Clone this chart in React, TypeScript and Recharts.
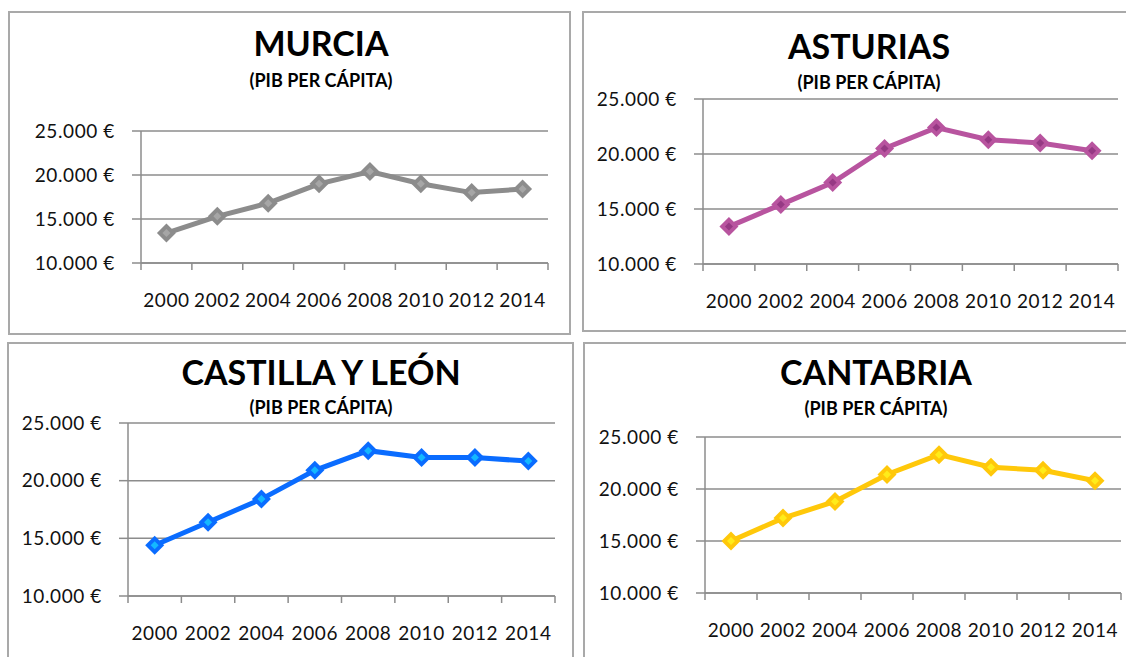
import React from 'react';
import { LineChart, Line, XAxis, YAxis, CartesianGrid } from 'recharts';

// PIB per cápita por comunidad (euros)
const years = ['2000', '2002', '2004', '2006', '2008', '2010', '2012', '2014'];
const murcia = [13400, 15300, 16800, 19000, 20400, 19000, 18000, 18400];
const asturias = [13400, 15400, 17400, 20500, 22400, 21300, 21000, 20300];
const castillaLeon = [14400, 16400, 18400, 20900, 22600, 22000, 22000, 21700];
const cantabria = [15000, 17200, 18800, 21400, 23300, 22100, 21800, 20800];
const yTicks = [10000, 15000, 20000, 25000];

const SUBTITLE = '(PIB PER CÁPITA)';
const AXIS = '#8c8c8c';
const TEXT = '#111';
const FONT = 'Lato, "Open Sans", sans-serif';
const TICK_FS = 19;

const fmtEuro = (v: number) => `${Math.floor(v / 1000)}.${String(v % 1000).padStart(3, '0')} €`;

const panels = [
  {
    title: 'MURCIA', values: murcia, line: '#8c8c8c', inner: '#a6a6a6',
    box: { x: 8, y: 11, w: 563, h: 324 }, plot: { x: 141, y: 131, w: 407, h: 132 },
    titleX: 321, titleY: 44, subY: 81,
  },
  {
    title: 'ASTURIAS', values: asturias, line: '#b8549f', inner: '#963984',
    box: { x: 582, y: 11, w: 560, h: 321 }, plot: { x: 703, y: 99, w: 415, h: 165 },
    titleX: 869, titleY: 47, subY: 83,
  },
  {
    title: 'CASTILLA Y LEÓN', values: castillaLeon, line: '#0a6cff', inner: '#14b8ff',
    box: { x: 7, y: 342, w: 567, h: 330 }, plot: { x: 128, y: 423, w: 427, h: 173 },
    titleX: 321, titleY: 373, subY: 408,
  },
  {
    title: 'CANTABRIA', values: cantabria, line: '#ffc80a', inner: '#ffec1a',
    box: { x: 583, y: 342, w: 560, h: 330 }, plot: { x: 705, y: 437, w: 416, h: 156 },
    titleX: 876, titleY: 373, subY: 409,
  },
];

const makeDot = (outer: string, inner: string) => (props: any) => {
  const { cx, cy, index } = props;
  if (cx == null || cy == null) return <g key={`d-${index}`} />;
  const r = 9.5;
  const ri = 4;
  return (
    <g key={`d-${index}`}>
      <path d={`M${cx},${cy - r} L${cx + r},${cy} L${cx},${cy + r} L${cx - r},${cy} Z`} fill={outer} />
      <path d={`M${cx},${cy - ri} L${cx + ri},${cy} L${cx},${cy + ri} L${cx - ri},${cy} Z`} fill={inner} />
    </g>
  );
};

const makeXTick = (half: number, bottom: number) => (props: any) => {
  const { x, payload, index } = props;
  const last = index === years.length - 1;
  return (
    <g>
      <line x1={x - half} x2={x - half} y1={bottom} y2={bottom + 7} stroke={AXIS} strokeWidth={1.5} />
      {last && <line x1={x + half} x2={x + half} y1={bottom} y2={bottom + 7} stroke={AXIS} strokeWidth={1.5} />}
      <text x={x} y={bottom + 36} textAnchor="middle" dominantBaseline="central"
        fontSize={TICK_FS} fill={TEXT} fontFamily={FONT} letterSpacing={0.6}>
        {payload.value}
      </text>
    </g>
  );
};

function Panel({ p }: { p: (typeof panels)[number] }) {
  const data = years.map((year, i) => ({ year, v: p.values[i] }));
  const top = 20;
  const left = 120;
  const right = 20;
  const bottomSpace = 60;
  const half = p.plot.w / years.length / 2;
  const titleFs = 34;
  const subFs = 18;

  return (
    <>
      <div style={{
        position: 'absolute', left: p.box.x, top: p.box.y, width: p.box.w, height: p.box.h,
        border: '2px solid #a9a9a9', boxSizing: 'border-box', background: '#fff',
      }} />
      <div style={{
        position: 'absolute', left: p.titleX - 250, width: 500, top: p.titleY - 0.53 * titleFs,
        textAlign: 'center', fontSize: titleFs, lineHeight: 1, fontWeight: 700, fontFamily: FONT, color: '#000',
      }}>{p.title}</div>
      <div style={{
        position: 'absolute', left: p.titleX - 250, width: 500, top: p.subY - 0.53 * subFs,
        textAlign: 'center', fontSize: subFs, lineHeight: 1, fontWeight: 700, fontFamily: FONT, color: '#000',
      }}>{SUBTITLE}</div>
      <div style={{ position: 'absolute', left: p.plot.x - left, top: p.plot.y - top }}>
        <LineChart
          width={p.plot.w + left + right}
          height={p.plot.h + top + bottomSpace}
          data={data}
          margin={{ top, right, bottom: 0, left: 0 }}
          style={{ fontFamily: FONT }}
        >
          <CartesianGrid vertical={false} stroke={AXIS} strokeWidth={1.5} />
          <XAxis
            dataKey="year"
            height={bottomSpace}
            padding={{ left: half, right: half }}
            axisLine={{ stroke: AXIS, strokeWidth: 1.5 }}
            tickLine={false}
            tickSize={0}
            tickMargin={0}
            interval={0}
            tick={makeXTick(half, top + p.plot.h)}
          />
          <YAxis
            width={left}
            domain={[10000, 25000]}
            ticks={yTicks}
            interval={0}
            axisLine={{ stroke: AXIS, strokeWidth: 1.5 }}
            tickLine={{ stroke: AXIS, strokeWidth: 1.5 }}
            tickSize={9}
            tickMargin={17}
            tickFormatter={fmtEuro}
            tick={{ fontSize: TICK_FS, fill: TEXT, fontFamily: FONT, letterSpacing: 0.6 }}
          />
          <Line
            type="linear"
            dataKey="v"
            stroke={p.line}
            strokeWidth={5}
            dot={makeDot(p.line, p.inner)}
            activeDot={false}
            isAnimationActive={false}
          />
        </LineChart>
      </div>
    </>
  );
}

export default function App() {
  return (
    <div style={{
      position: 'absolute', left: 0, top: 0, width: 1126, height: 657,
      overflow: 'hidden', background: '#fff',
    }}>
      {panels.map((p) => <Panel key={p.title} p={p} />)}
    </div>
  );
}
